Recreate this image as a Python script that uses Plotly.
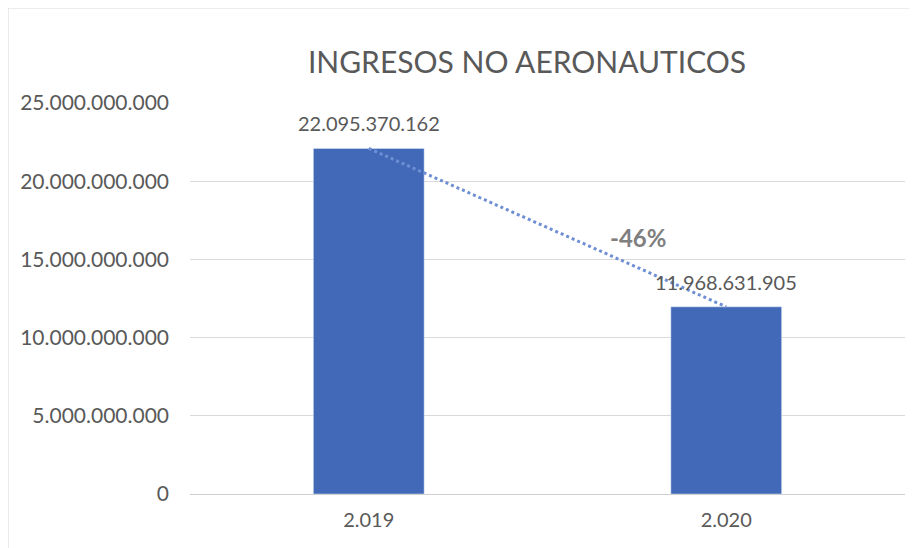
import plotly.graph_objects as go

years = ["2.019", "2.020"]
ingresos = [22095370162, 11968631905]
variacion = "-46%"
y_ticks = [0, 5000000000, 10000000000, 15000000000, 20000000000, 25000000000]

gray = "#595959"
font_family = "Lato, 'Open Sans', sans-serif"

fig = go.Figure()

# dotted trend line between bar tops (drawn first so it sits behind the bars)
fig.add_trace(go.Scatter(
    x=years, y=ingresos, mode="lines",
    line=dict(color="#6f8fd4", width=3, dash="dot"),
    hoverinfo="skip", showlegend=False,
))

fig.add_trace(go.Bar(
    x=years, y=ingresos,
    marker_color="#4169b8",
    width=0.31,
    showlegend=False,
))

# data labels above the bars (category index positions)
for i, val in enumerate(ingresos):
    fig.add_annotation(
        x=i, y=val, xref="x", yref="y",
        text=f"{val:,}".replace(",", "."),
        showarrow=False, yanchor="middle", yshift=25,
        font=dict(size=20, color=gray, family=font_family),
    )

fig.add_annotation(
    x=0.754, y=16370000000,
    xref="x", yref="y",
    text="<b>" + variacion + "</b>",
    showarrow=False,
    font=dict(size=24, color="#7f7f7f", family=font_family),
)

# faint outer frame of the chart
fig.add_shape(
    type="rect", xref="paper", yref="paper",
    x0=-0.2545, x1=1.03, y0=-0.3, y1=1.243,
    line=dict(color="#d9d9d9", width=1),
)

fig.update_layout(
    title=dict(
        text="INGRESOS NO AERONAUTICOS",
        x=0.566, xanchor="center", y=0.901, yanchor="middle",
        font=dict(size=30, color=gray, family=font_family),
    ),
    width=917, height=548,
    margin=dict(l=182, r=20, t=95, b=62),
    paper_bgcolor="white", plot_bgcolor="white",
    separators=",.",
    font=dict(family=font_family, color=gray),
)

fig.update_yaxes(
    range=[0, 25000000000],
    tickvals=y_ticks, tickformat=",.0f",
    tickfont=dict(size=21, color=gray),
    ticklabelstandoff=20,
    showgrid=True, gridcolor="#d9d9d9", gridwidth=1,
    zeroline=False, ticklen=0, ticks="",
    showline=False,
)
fig.update_xaxes(
    range=[-0.5, 1.5],
    tickfont=dict(size=20, color=gray),
    ticklabelstandoff=8,
    showline=True, linecolor="#cfcfcf", linewidth=1,
    ticks="", showgrid=False,
    type="category",
)

fig.write_html("out.html")
